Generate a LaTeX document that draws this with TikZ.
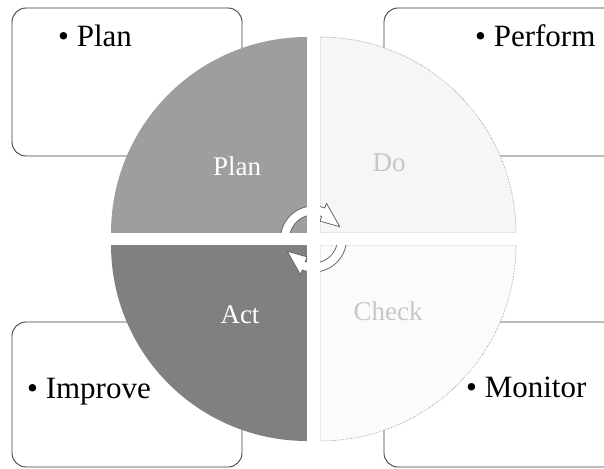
\documentclass[tikz,border=0pt]{standalone}
\usepackage{fontspec}
\setmainfont{Liberation Serif}
\definecolor{plancol}{gray}{0.62}
\definecolor{actcol}{gray}{0.50}
\definecolor{docol}{gray}{0.965}
\definecolor{checkcol}{gray}{0.985}
\begin{document}
\begin{tikzpicture}[x=1pt,y=-1pt,
  box/.style={draw=black!75, line width=0.9pt, rounded corners=14pt, fill=white},
  boxtext/.style={anchor=base west, inner sep=0pt, font=\fontsize{31}{34}\selectfont},
  qlabel/.style={font=\fontsize{27}{30}\selectfont, inner sep=0pt},
  lightedge/.style={draw=black!45, line width=0.6pt, densely dotted},
  arrowshape/.style={fill=white, draw=black!60, line width=0.8pt, line join=round}]
\clip (0,0) rectangle (604,468);
\fill[white] (0,0) rectangle (604,468);
% text boxes (behind the circle)
\draw[box] (12,8) rectangle (242,156);
\draw[box] (384,8) rectangle (620,156);
\draw[box] (12,322) rectangle (242,467);
\draw[box] (384,322) rectangle (620,467);
% quadrants
\fill[plancol] (307,233) -- plot[domain=180:270, samples=80] ({307+196*cos(\x)},{233+196*sin(\x)}) -- cycle;
\filldraw[fill=docol, lightedge] (320,233) -- plot[domain=270:360, samples=80] ({320+196*cos(\x)},{233+196*sin(\x)}) -- cycle;
\fill[actcol] (307,245) -- plot[domain=90:180, samples=80] ({307+196*cos(\x)},{245+196*sin(\x)}) -- cycle;
\filldraw[fill=checkcol, lightedge] (320,245) -- plot[domain=0:90, samples=80] ({320+196*cos(\x)},{245+196*sin(\x)}) -- cycle;
% central cycle arrows
\filldraw[arrowshape] plot[domain=175:290, samples=40] ({313.5+33*cos(\x)},{239+33*sin(\x)})
  -- ({313.5+38*cos(290)},{239+38*sin(290)})
  -- ({313.5+29*cos(335)},{239+29*sin(335)})
  -- ({313.5+19*cos(290)},{239+19*sin(290)})
  -- plot[domain=290:175, samples=40] ({313.5+24*cos(\x)},{239+24*sin(\x)}) -- cycle;
\filldraw[arrowshape] plot[domain=-5:110, samples=40] ({313.5+33*cos(\x)},{239+33*sin(\x)})
  -- ({313.5+38*cos(110)},{239+38*sin(110)})
  -- ({313.5+29*cos(155)},{239+29*sin(155)})
  -- ({313.5+19*cos(110)},{239+19*sin(110)})
  -- plot[domain=110:-5, samples=40] ({313.5+24*cos(\x)},{239+24*sin(\x)}) -- cycle;
% gaps between quadrants
\fill[white] (307,0) rectangle (320,468);
\fill[white] (0,233) rectangle (604,245);
% quadrant labels
\node[qlabel, text=white] (lplan) at (237,166) {Plan};
\node[qlabel, text=black!22] (ldo) at (389,163) {Do};
\node[qlabel, text=white] (lact) at (240,315) {Act};
\node[qlabel, text=black!22] (lcheck) at (388,311) {Check};
% box texts
\node[boxtext] (tplan) at (58,47) {\textbullet\ Plan};
\node[boxtext] (tperf) at (475,47) {\textbullet\ Perform};
\node[boxtext] (timp) at (27,398) {\textbullet\ Improve};
\node[boxtext] (tmon) at (466,397) {\textbullet\ Monitor};
\end{tikzpicture}
\end{document}
